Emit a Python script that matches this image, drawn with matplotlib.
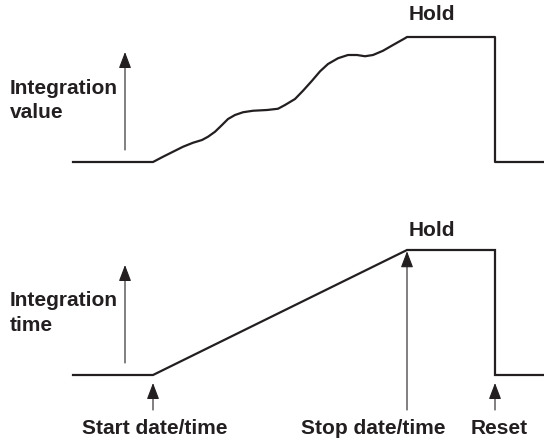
#!/usr/bin/env python3
"""Integration value / integration time timing diagram."""

import matplotlib

matplotlib.use("Agg")
import matplotlib.pyplot as plt
from matplotlib.patches import FancyArrowPatch

plt.rcParams.update(
    {
        "font.family": ["Liberation Sans", "DejaVu Sans"],
        "font.weight": "bold",
        "font.size": 15,
    }
)

INK = "#231f20"

# time axis (arbitrary units) and level (0 = reset, 1 = hold)
value_t = [73, 153, 163, 173, 183, 193, 202, 208, 215, 222, 228, 235, 243,
           253, 267, 278, 285, 295, 303, 312, 320, 328, 338, 348, 357, 365,
           373, 383, 393, 405, 407, 495, 495, 544]
value_v = [0, 0, 0.042, 0.082, 0.122, 0.154, 0.176, 0.202, 0.242, 0.296,
           0.344, 0.376, 0.398, 0.410, 0.416, 0.426, 0.456, 0.504, 0.570,
           0.650, 0.725, 0.784, 0.830, 0.856, 0.856, 0.846, 0.856, 0.890,
           0.936, 0.990, 1.0, 1.0, 0, 0]

time_t = [73, 153, 407, 495, 495, 544]
time_v = [0, 0, 1.0, 1.0, 0, 0]

start_t, stop_t, reset_t = 153, 407, 495
event_labels = ["Start date/time", "Stop date/time", "Reset"]
event_label_x = [155, 373, 499]


def arrow(ax, x, y0, y1):
    ax.add_patch(
        FancyArrowPatch(
            (x, y0), (x, y1),
            arrowstyle="-|>,head_length=10,head_width=3.8",
            mutation_scale=1,
            color=INK,
            lw=0.8,
            shrinkA=0,
            shrinkB=0,
        )
    )


fig = plt.figure(figsize=(5.44, 4.43), dpi=100)
ax_top = fig.add_axes([0, 0.5, 1, 0.5])
ax_bot = fig.add_axes([0, 0, 1, 0.5])

for ax in (ax_top, ax_bot):
    ax.set_xlim(0, 544)
    ax.axis("off")

ax_top.set_ylim(-0.476, 1.296)
ax_bot.set_ylim(-0.544, 1.228)

# top panel: integration value
ax_top.plot(value_t, value_v, color=INK, lw=1.6, solid_joinstyle="round")
arrow(ax_top, 125, 0.096, 0.88)
ax_top.text(10, 0.49, "Integration\nvalue", ha="left", va="center",
            linespacing=1.35, color=INK)
ax_top.text(432, 1.184, "Hold", ha="center", va="center", color=INK)

# bottom panel: integration time
ax_bot.plot(time_t, time_v, color=INK, lw=1.6, solid_joinstyle="miter")
arrow(ax_bot, 125, 0.096, 0.88)
ax_bot.text(10, 0.496, "Integration\ntime", ha="left", va="center",
            linespacing=1.35, color=INK)
ax_bot.text(432, 1.16, "Hold", ha="center", va="center", color=INK)

arrow(ax_bot, start_t, -0.28, -0.064)
arrow(ax_bot, stop_t, -0.28, 0.99)
arrow(ax_bot, reset_t, -0.28, -0.064)

for label, x in zip(event_labels, event_label_x):
    ax_bot.text(x, -0.424, label, ha="center", va="center", color=INK)

fig.savefig("out.png", dpi=100)
